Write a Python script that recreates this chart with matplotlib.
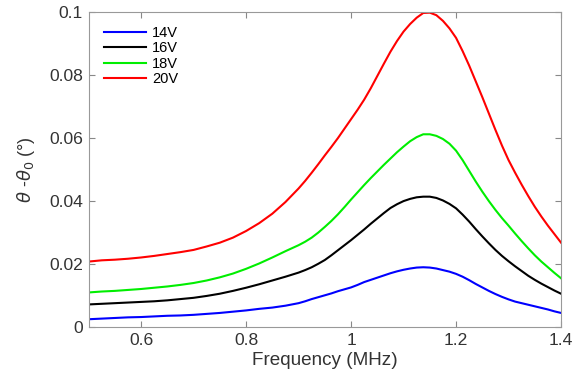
import numpy as np
import matplotlib
matplotlib.use("Agg")
import matplotlib.pyplot as plt

plt.rcParams['font.family'] = ['Liberation Sans', 'DejaVu Sans']

# frequency grid (MHz): coarse on the flat part, finer around the resonance
freq = [0.500, 0.525, 0.550, 0.575, 0.600, 0.625, 0.650, 0.675, 0.700, 0.725,
        0.750, 0.775, 0.800, 0.825, 0.850, 0.875,
        0.9000, 0.9125, 0.9250, 0.9375, 0.9500, 0.9625, 0.9750, 0.9875,
        1.0000, 1.0125, 1.0250, 1.0375, 1.0500, 1.0625, 1.0750, 1.0875,
        1.1000, 1.1125, 1.1250, 1.1375, 1.1500, 1.1625, 1.1750, 1.1875,
        1.2000, 1.2125, 1.2250, 1.2375, 1.2500, 1.2625, 1.2750, 1.2875,
        1.3000, 1.3125, 1.3250, 1.3375, 1.3500, 1.3625, 1.3750, 1.3875, 1.4000]

v14 = [0.0025, 0.0027, 0.0029, 0.0031, 0.0032, 0.0034, 0.0036, 0.0037, 0.0039, 0.0042,
       0.0045, 0.0049, 0.0053, 0.0058, 0.0062, 0.0068,
       0.0076, 0.0082, 0.0089, 0.0095, 0.0101, 0.0107, 0.0114, 0.0120,
       0.0126, 0.0134, 0.0143, 0.0150, 0.0157, 0.0164, 0.0171, 0.0177,
       0.0182, 0.0186, 0.0189, 0.0190, 0.0189, 0.0186, 0.0181, 0.0176,
       0.0169, 0.0160, 0.0149, 0.0137, 0.0126, 0.0115, 0.0105, 0.0096,
       0.0088, 0.0081, 0.0076, 0.0071, 0.0066, 0.0061, 0.0056, 0.0050, 0.0045]

v16 = [0.0072, 0.0074, 0.0076, 0.0078, 0.0080, 0.0082, 0.0085, 0.0089, 0.0093, 0.0099,
       0.0106, 0.0115, 0.0125, 0.0136, 0.0148, 0.0160,
       0.0173, 0.0181, 0.0190, 0.0201, 0.0213, 0.0228, 0.0244, 0.0260,
       0.0276, 0.0293, 0.0310, 0.0328, 0.0345, 0.0362, 0.0378, 0.0390,
       0.0400, 0.0407, 0.0412, 0.0414, 0.0414, 0.0410, 0.0402, 0.0391,
       0.0377, 0.0357, 0.0335, 0.0311, 0.0288, 0.0266, 0.0245, 0.0226,
       0.0209, 0.0193, 0.0178, 0.0163, 0.0150, 0.0138, 0.0127, 0.0116, 0.0106]

v18 = [0.0110, 0.0113, 0.0115, 0.0118, 0.0121, 0.0125, 0.0129, 0.0134, 0.0140, 0.0148,
       0.0158, 0.0170, 0.0185, 0.0202, 0.0221, 0.0241,
       0.0260, 0.0271, 0.0284, 0.0300, 0.0318, 0.0337, 0.0358, 0.0381,
       0.0405, 0.0428, 0.0451, 0.0473, 0.0494, 0.0515, 0.0535, 0.0555,
       0.0573, 0.0590, 0.0603, 0.0612, 0.0612, 0.0607, 0.0597, 0.0582,
       0.0560, 0.0530, 0.0496, 0.0462, 0.0430, 0.0400, 0.0372, 0.0346,
       0.0322, 0.0297, 0.0273, 0.0250, 0.0228, 0.0208, 0.0190, 0.0172, 0.0155]

v20 = [0.0208, 0.0212, 0.0214, 0.0217, 0.0221, 0.0226, 0.0232, 0.0238, 0.0245, 0.0256,
       0.0268, 0.0284, 0.0305, 0.0330, 0.0360, 0.0397,
       0.0440, 0.0464, 0.0490, 0.0517, 0.0545, 0.0572, 0.0600, 0.0630,
       0.0660, 0.0690, 0.0722, 0.0758, 0.0797, 0.0836, 0.0874, 0.0908,
       0.0938, 0.0962, 0.0982, 0.0997, 0.0998, 0.0990, 0.0972, 0.0948,
       0.0918, 0.0876, 0.0830, 0.0780, 0.0730, 0.0678, 0.0626, 0.0576,
       0.0530, 0.0490, 0.0452, 0.0416, 0.0382, 0.0351, 0.0322, 0.0295, 0.0268]

labels = ['14V', '16V', '18V', '20V']
colors = ['#0000ff', '#000000', '#00ee00', '#ff0000']

fig = plt.figure(figsize=(5.79, 3.76), dpi=100)
ax = fig.add_axes([0.153, 0.130, 0.816, 0.838])

for vals, lab, c in zip([v14, v16, v18, v20], labels, colors):
    ax.plot(freq, vals, color=c, lw=1.5, label=lab)

ax.set_xlim(0.5, 1.4)
ax.set_ylim(0, 0.1)
ax.set_xticks([0.6, 0.8, 1.0, 1.2, 1.4])
ax.set_xticklabels(['0.6', '0.8', '1', '1.2', '1.4'])
ax.set_yticks([0, 0.02, 0.04, 0.06, 0.08, 0.1])
ax.set_yticklabels(['0', '0.02', '0.04', '0.06', '0.08', '0.1'])
ax.tick_params(direction='in', top=True, right=True, labelsize=12.6,
               colors='#888888', labelcolor='#333333', length=4, pad=4)
for sp in ax.spines.values():
    sp.set_color('#999999')

ax.set_xlabel('Frequency (MHz)', fontsize=13.6, color='#333333', labelpad=3)
ax.set_ylabel(r'$\theta$ -$\theta_0$ (°)', fontsize=13, color='#333333', labelpad=9)

ax.legend(loc='upper left', frameon=False, fontsize=10.5, handlelength=2.9,
          handletextpad=0.4, labelspacing=0.1, borderaxespad=0.0,
          bbox_to_anchor=(0.02, 0.975))

fig.savefig('out.png', dpi=100)
